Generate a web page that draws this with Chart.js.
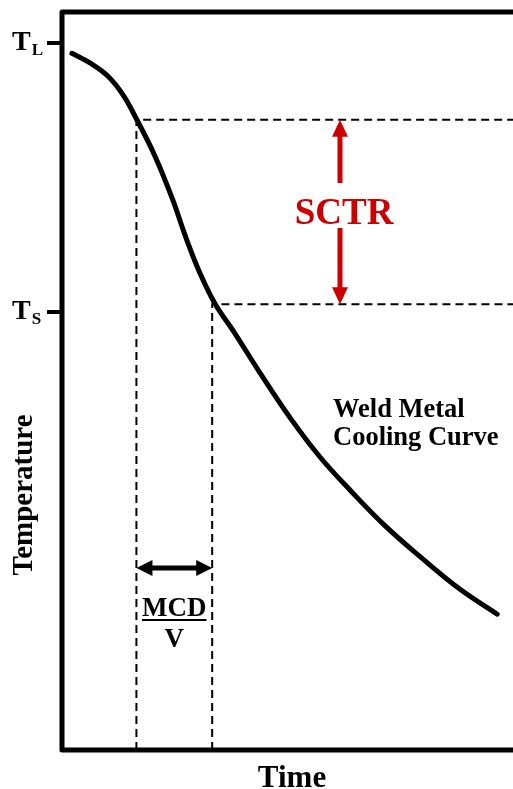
<!DOCTYPE html>
<html>
<head>
<meta charset="utf-8">
<script src="https://cdn.jsdelivr.net/npm/chart.js@4.4.0/dist/chart.umd.min.js"></script>
<style>
  html, body { margin: 0; padding: 0; background: #fff; overflow: hidden; }
  canvas { display: block; }
</style>
</head>
<body>
<canvas id="coolingChart" width="513" height="789"></canvas>
<script>
// weld metal cooling curve (time and temperature in relative units, 0-100)
const timeValues = [2.2, 6.2, 10.2, 13.5, 16.6, 20.6, 24.4, 27.5, 30.6, 33.9, 38.4, 43.9, 50.6, 57.2, 63.9, 71.6, 79.4, 88.2, 96.5];
const tempValues = [94.4, 93.1, 91.3, 88.8, 85.4, 80.5, 74.8, 69.4, 64.6, 60.5, 56.4, 51.1, 45.0, 39.7, 35.2, 30.4, 26.2, 21.8, 18.4];

// liquidus / solidus crossings
const liquidusTime = 16.5;
const liquidusTemp = 85.4;
const solidusTime = 33.3;
const solidusTemp = 60.4;

// y axis ticks
const tickLabels = [['T', 'L'], ['T', 'S']];
const tickValues = [95.8, 59.3];

const SERIF = '"Liberation Serif", "DejaVu Serif", serif';
const RED = '#cc0000';

function arrowHead(ctx, tipX, tipY, dx, dy, len, half) {
    // dx, dy: unit direction the arrow points to
    const bx = tipX - dx * len, by = tipY - dy * len;
    ctx.beginPath();
    ctx.moveTo(tipX, tipY);
    ctx.lineTo(bx - dy * half, by + dx * half);
    ctx.lineTo(bx + dy * half, by - dx * half);
    ctx.closePath();
    ctx.fill();
}

const annotations = {
    id: 'annotations',
    afterDraw(chart) {
        const { ctx, chartArea: area, scales: { x, y } } = chart;
        ctx.save();

        // frame (left, top, bottom; right side runs off the picture)
        ctx.strokeStyle = '#000';
        ctx.lineWidth = 5;
        ctx.lineJoin = 'round';
        ctx.beginPath();
        ctx.moveTo(area.right + 20, 12);
        ctx.lineTo(area.left, 12);
        ctx.lineTo(area.left, area.bottom);
        ctx.lineTo(area.right + 20, area.bottom);
        ctx.stroke();

        // y ticks with subscript labels
        ctx.lineWidth = 4;
        ctx.fillStyle = '#000';
        tickValues.forEach((v, i) => {
            const py = Math.round(y.getPixelForValue(v));
            ctx.beginPath();
            ctx.moveTo(47, py);
            ctx.lineTo(area.left, py);
            ctx.stroke();
            ctx.textAlign = 'left';
            ctx.textBaseline = 'alphabetic';
            ctx.font = 'bold 28px ' + SERIF;
            ctx.fillText(tickLabels[i][0], 12, py + 7);
            const w = ctx.measureText(tickLabels[i][0]).width;
            ctx.font = 'bold 17px ' + SERIF;
            ctx.fillText(tickLabels[i][1], 12 + w + 1, py + 12);
        });

        // axis titles
        ctx.font = 'bold 31px ' + SERIF;
        ctx.textAlign = 'center';
        ctx.fillText('Time', 292, 787);
        ctx.save();
        ctx.translate(32, 495);
        ctx.rotate(-Math.PI / 2);
        ctx.font = 'bold 29px ' + SERIF;
        ctx.fillText('Temperature', 0, 0);
        ctx.restore();

        // curve label
        ctx.font = 'bold 26.5px ' + SERIF;
        ctx.textAlign = 'left';
        ctx.fillText('Weld Metal', 333, 417);
        ctx.fillText('Cooling Curve', 333, 445);

        // SCTR arrow
        const ax = Math.round(x.getPixelForValue(61.6));
        const yTop = y.getPixelForValue(liquidusTemp);
        const yBot = y.getPixelForValue(solidusTemp);
        ctx.fillStyle = RED;
        ctx.strokeStyle = RED;
        ctx.lineWidth = 5;
        ctx.lineCap = 'butt';
        ctx.beginPath();
        ctx.moveTo(ax, yTop + 14);
        ctx.lineTo(ax, 183);
        ctx.moveTo(ax, 228);
        ctx.lineTo(ax, yBot - 14);
        ctx.stroke();
        arrowHead(ctx, ax, yTop, 0, -1, 17, 8);
        arrowHead(ctx, ax, yBot, 0, 1, 17, 8);
        ctx.font = 'bold 37px ' + SERIF;
        ctx.textAlign = 'center';
        ctx.fillText('SCTR', ax + 4, 224);

        // MCD / V arrow
        const x1 = x.getPixelForValue(liquidusTime);
        const x2 = x.getPixelForValue(solidusTime);
        const my = Math.round(y.getPixelForValue(24.7));
        ctx.fillStyle = '#000';
        ctx.strokeStyle = '#000';
        ctx.beginPath();
        ctx.moveTo(x1 + 12, my);
        ctx.lineTo(x2 - 12, my);
        ctx.stroke();
        arrowHead(ctx, x1, my, -1, 0, 16, 8);
        arrowHead(ctx, x2, my, 1, 0, 16, 8);
        const mx = (x1 + x2) / 2;
        ctx.font = 'bold 27px ' + SERIF;
        ctx.textAlign = 'center';
        ctx.fillText('MCD', mx, 616);
        const mw = ctx.measureText('MCD').width;
        ctx.fillRect(mx - mw / 2, 619, mw, 2);
        ctx.fillText('V', mx, 647);

        ctx.restore();
    }
};

const dashStyle = {
    borderColor: '#000',
    borderWidth: 2,
    borderDash: [8, 5],
    pointRadius: 0,
    tension: 0,
    fill: false
};

new Chart(document.getElementById('coolingChart'), {
    type: 'line',
    data: {
        datasets: [
            {
                label: 'Weld Metal Cooling Curve',
                data: timeValues.map((t, i) => ({ x: t, y: tempValues[i] })),
                borderColor: '#000',
                borderWidth: 5,
                borderCapStyle: 'round',
                borderJoinStyle: 'round',
                tension: 0.4,
                pointRadius: 0,
                fill: false
            },
            Object.assign({
                label: 'Liquidus',
                data: [{ x: liquidusTime, y: 0 }, { x: liquidusTime, y: liquidusTemp }, { x: 100, y: liquidusTemp }]
            }, dashStyle),
            Object.assign({
                label: 'Solidus',
                data: [{ x: solidusTime, y: 0 }, { x: solidusTime, y: solidusTemp }, { x: 100, y: solidusTemp }]
            }, dashStyle)
        ]
    },
    options: {
        responsive: false,
        animation: false,
        devicePixelRatio: 1,
        layout: { padding: { left: 62, top: 12, right: 0, bottom: 39 } },
        scales: {
            x: { type: 'linear', min: 0, max: 100, display: false },
            y: { type: 'linear', min: 0, max: 100, display: false }
        },
        plugins: {
            legend: { display: false },
            tooltip: { enabled: false }
        }
    },
    plugins: [annotations]
});
</script>
</body>
</html>
